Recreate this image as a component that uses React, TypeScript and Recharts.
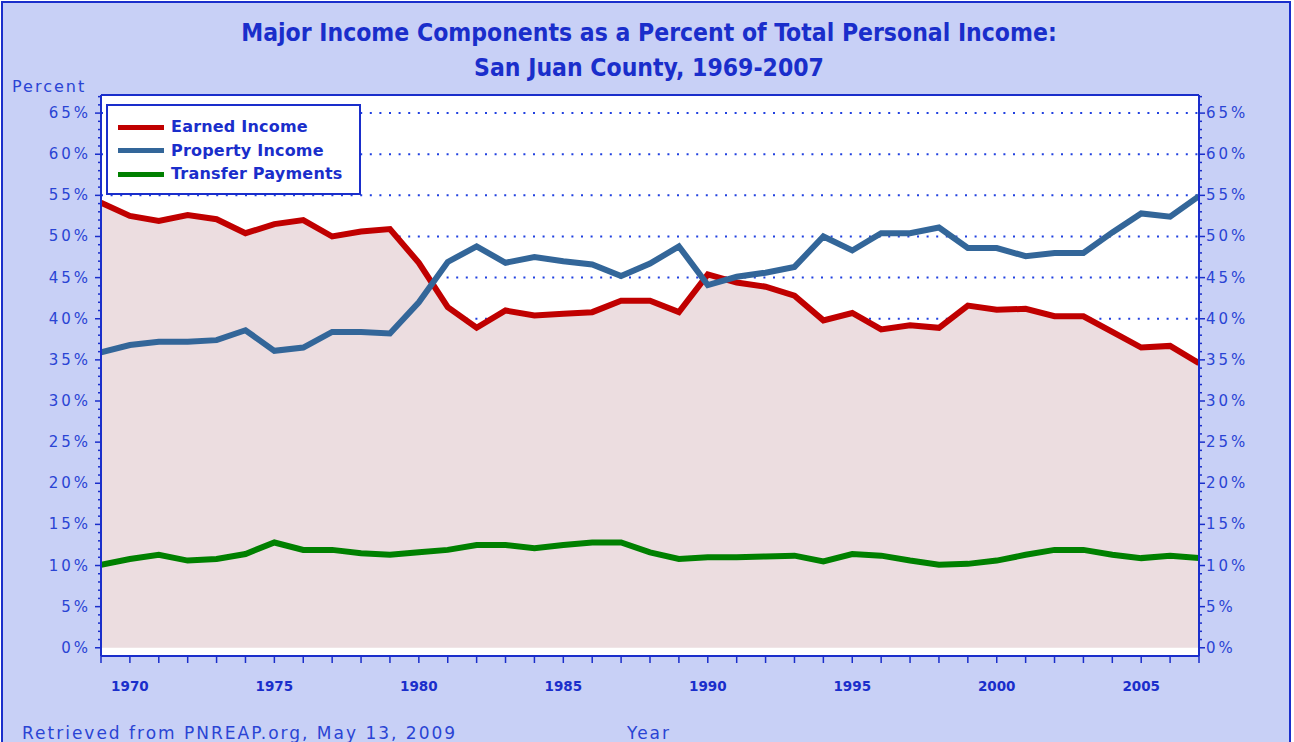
import React from 'react';
import { ComposedChart, Area, Line, XAxis, YAxis, CartesianGrid, ReferenceLine } from 'recharts';

const years = [
  1969, 1970, 1971, 1972, 1973, 1974, 1975, 1976, 1977, 1978,
  1979, 1980, 1981, 1982, 1983, 1984, 1985, 1986, 1987, 1988,
  1989, 1990, 1991, 1992, 1993, 1994, 1995, 1996, 1997, 1998,
  1999, 2000, 2001, 2002, 2003, 2004, 2005, 2006, 2007,
];

const earnedIncome = [
  54.1, 52.5, 51.9, 52.6, 52.1, 50.4, 51.5, 52.0, 50.0, 50.6,
  50.9, 46.8, 41.4, 38.9, 41.0, 40.4, 40.6, 40.8, 42.2, 42.2,
  40.8, 45.4, 44.4, 43.9, 42.8, 39.8, 40.7, 38.7, 39.2, 38.9,
  41.6, 41.1, 41.2, 40.3, 40.3, 38.4, 36.5, 36.7, 34.6,
];

const propertyIncome = [
  35.9, 36.8, 37.2, 37.2, 37.4, 38.6, 36.1, 36.5, 38.4, 38.4,
  38.2, 42.0, 46.9, 48.8, 46.8, 47.5, 47.0, 46.6, 45.2, 46.7,
  48.8, 44.1, 45.1, 45.6, 46.3, 50.0, 48.3, 50.4, 50.4, 51.1,
  48.6, 48.6, 47.6, 48.0, 48.0, 50.5, 52.8, 52.4, 54.9,
];

const transferPayments = [
  10.1, 10.8, 11.3, 10.6, 10.8, 11.4, 12.8, 11.9, 11.9, 11.5,
  11.3, 11.6, 11.9, 12.5, 12.5, 12.1, 12.5, 12.8, 12.8, 11.6,
  10.8, 11.0, 11.0, 11.1, 11.2, 10.5, 11.4, 11.2, 10.6, 10.1,
  10.2, 10.6, 11.3, 11.9, 11.9, 11.3, 10.9, 11.2, 10.9,
];

const yearLabels = [1970, 1975, 1980, 1985, 1990, 1995, 2000, 2005];
const percentTicks = [5, 10, 15, 20, 25, 30, 35, 40, 45, 50, 55, 60, 65];
const percentMinorTicks = Array.from({ length: 68 }, (_, i) => i);
const percentDomain = [-1, 67.2];

const seriesInfo = [
  { key: 'earned', name: 'Earned Income', color: '#c00000' },
  { key: 'property', name: 'Property Income', color: '#336699' },
  { key: 'transfer', name: 'Transfer Payments', color: '#008000' },
];

const data = years.map((year, i) => ({
  year,
  earned: earnedIncome[i],
  property: propertyIncome[i],
  transfer: transferPayments[i],
}));

const BLUE = '#1a2ecb';
const TICK_BLUE = '#2a44d4';
const BG = '#c8d0f6';

const LeftTick = (props: any) => {
  const { x, y, payload } = props;
  const v = payload.value;
  const major = v % 5 === 0;
  return (
    <g>
      <line x1={x - (major ? 6 : 3)} x2={x} y1={y} y2={y} stroke={BLUE} strokeWidth={1.5} />
      {major && (
        <text x={x - 10} y={y} dy={5} textAnchor="end" fill={TICK_BLUE}
          style={{ fontFamily: 'DejaVu Sans', fontSize: 15, letterSpacing: 3 }}>
          {v}%
        </text>
      )}
    </g>
  );
};

const RightTick = (props: any) => {
  const { x, y, payload } = props;
  const v = payload.value;
  const major = v % 5 === 0;
  return (
    <g>
      <line x1={x} x2={x + (major ? 6 : 3)} y1={y} y2={y} stroke={BLUE} strokeWidth={1.5} />
      {major && (
        <text x={x + 7} y={y} dy={5} textAnchor="start" fill={TICK_BLUE}
          style={{ fontFamily: 'DejaVu Sans', fontSize: 15, letterSpacing: 3 }}>
          {v}%
        </text>
      )}
    </g>
  );
};

const YearTick = (props: any) => {
  const { x, y, payload } = props;
  const v = payload.value;
  return (
    <g>
      <line x1={x} x2={x} y1={y} y2={y + 7} stroke={BLUE} strokeWidth={1.5} />
      {yearLabels.includes(v) && (
        <text x={x} y={y + 35} textAnchor="middle" fill={BLUE}
          style={{ fontFamily: 'DejaVu Sans', fontSize: 13.5, fontWeight: 'bold' }}>
          {v}
        </text>
      )}
    </g>
  );
};

// grid only on the 5% steps; uses the axis scale when it is handed over
const gridRows = ({ yAxis, offset }: any) => {
  if (yAxis && typeof yAxis.scale === 'function') {
    return percentTicks.map((t) => yAxis.scale(t));
  }
  const [lo, hi] = percentDomain;
  return percentTicks.map((t) => offset.top + (offset.height * (hi - t)) / (hi - lo));
};

export default function App() {
  return (
    <div style={{ position: 'fixed', left: 0, top: 0, width: 1294, height: 742, background: '#fff', overflow: 'hidden' }}>
      <div style={{
        position: 'absolute', left: 1, top: 1, width: 1286, height: 780,
        border: `2px solid ${BLUE}`, background: BG,
      }} />

      <div style={{
        position: 'absolute', left: 0, width: 1298, top: 15, textAlign: 'center',
        fontFamily: 'DejaVu Sans Condensed', fontWeight: 'bold', fontSize: 24.5, color: BLUE, lineHeight: '35px',
      }}>
        <div>Major Income Components as a Percent of Total Personal Income:</div>
        <div>San Juan County, 1969-2007</div>
      </div>

      <div style={{
        position: 'absolute', left: 12, top: 77, fontFamily: 'DejaVu Sans', fontSize: 16,
        letterSpacing: 2, color: TICK_BLUE,
      }}>Percent</div>

      <div style={{ position: 'absolute', left: 0, top: 0 }}>
        <ComposedChart width={1294} height={742} data={data}
          margin={{ top: 95, right: 0, bottom: 0, left: 0 }}>
          <CartesianGrid
            vertical={false}
            yAxisId="left"
            stroke="#2040e0"
            strokeWidth={2}
            strokeDasharray="2 7.6"
            fill="#ffffff"
            fillOpacity={1}
            horizontalCoordinatesGenerator={gridRows}
          />
          <XAxis dataKey="year" type="number" domain={[1969, 2007]} ticks={years}
            interval={0} height={86} tickSize={0} tickMargin={0} tickLine={false}
            axisLine={{ stroke: BLUE, strokeWidth: 2 }} tick={<YearTick />} allowDataOverflow />
          <YAxis yAxisId="left" type="number" domain={percentDomain} ticks={percentMinorTicks}
            interval={0} width={101} tickSize={0} tickMargin={0} tickLine={false}
            axisLine={{ stroke: BLUE, strokeWidth: 2 }} tick={<LeftTick />} allowDataOverflow />
          <YAxis yAxisId="right" orientation="right" type="number" domain={percentDomain}
            ticks={percentMinorTicks} interval={0} width={95} tickSize={0} tickMargin={0}
            tickLine={false} axisLine={{ stroke: BLUE, strokeWidth: 2 }} tick={<RightTick />}
            allowDataOverflow />
          <Area yAxisId="left" dataKey="earned" type="linear" baseValue={0} stroke="none"
            fill="#ecdde0" fillOpacity={1} isAnimationActive={false} />
          {seriesInfo.map((s) => (
            <Line key={s.key} yAxisId="left" dataKey={s.key} type="linear" stroke={s.color}
              strokeWidth={6} dot={false} activeDot={false} isAnimationActive={false} />
          ))}
          <ReferenceLine yAxisId="left" y={percentDomain[1]} stroke={BLUE} strokeWidth={2}
            ifOverflow="visible" />
        </ComposedChart>
      </div>

      <div style={{
        position: 'absolute', left: 106, top: 104, width: 255, height: 91,
        border: `2px solid ${BLUE}`, background: '#fff', boxSizing: 'border-box',
      }}>
        {seriesInfo.map((s, i) => (
          <div key={s.key} style={{ position: 'absolute', left: 10, top: 12 + i * 23.5, display: 'flex', alignItems: 'center' }}>
            <div style={{ width: 46, height: 5, background: s.color, marginRight: 7 }} />
            <span style={{ fontFamily: 'DejaVu Sans', fontWeight: 'bold', fontSize: 16, letterSpacing: 0.2, color: BLUE, lineHeight: '18px' }}>
              {s.name}
            </span>
          </div>
        ))}
      </div>

      <div style={{
        position: 'absolute', left: 22, top: 723, fontFamily: 'DejaVu Sans', fontSize: 17,
        letterSpacing: 2, color: TICK_BLUE,
      }}>Retrieved from PNREAP.org, May 13, 2009</div>
      <div style={{
        position: 'absolute', left: 627, top: 723, fontFamily: 'DejaVu Sans', fontSize: 17,
        letterSpacing: 2, color: TICK_BLUE,
      }}>Year</div>
    </div>
  );
}
